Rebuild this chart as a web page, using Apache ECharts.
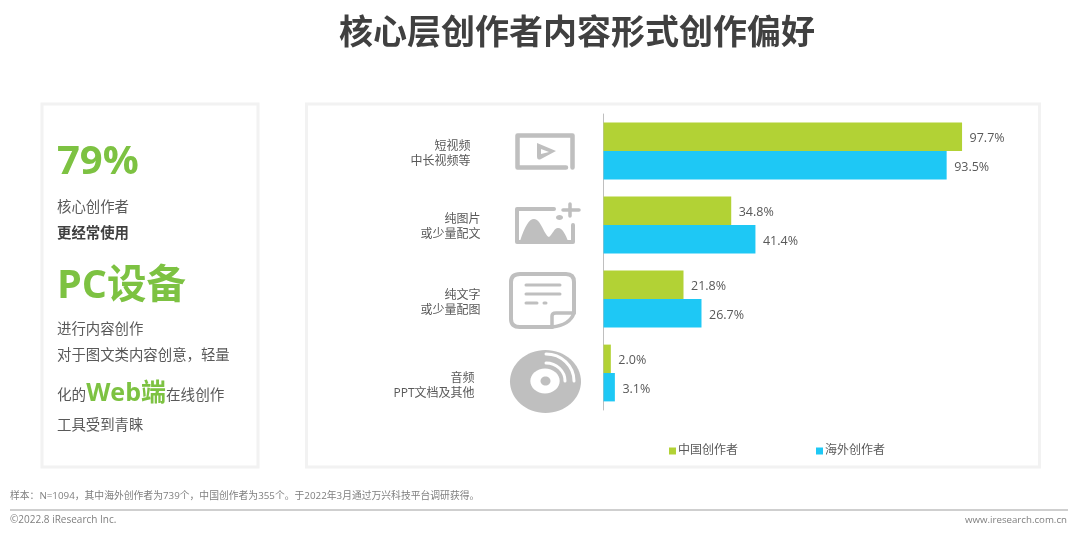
<!DOCTYPE html>
<html><head><meta charset="utf-8">
<style>html,body{margin:0;padding:0;background:#fff}#c{width:1080px;height:535px}</style>
<script src="https://cdn.jsdelivr.net/npm/echarts@6/dist/echarts.min.js"></script>
</head><body><div id="c"></div>
<script>
const categories = ['短视频\n中长视频等','纯图片\n或少量配文','纯文字\n或少量配图','音频\nPPT文档及其他'];
const labelPads = [133,123,123,129];
const labelDrops = [3,2,4,13];
const seriesNames = ['中国创作者','海外创作者'];
const chinaValues = [97.7,34.8,21.8,2.0];
const overseasValues = [93.5,41.4,26.7,3.1];
const titleText = '核心层创作者内容形式创作偏好';
const noteText = '样本：N=1094，其中海外创作者为739个，中国创作者为355个。于2022年3月通过万兴科技平台调研获得。';
const copyrightText = '©2022.8 iResearch Inc.';
const siteText = 'www.iresearch.com.cn';

const FONT = '"Open Sans","Noto Sans CJK SC",sans-serif';
const GREY = '#595959', ICON = '#bfbfbf', GREEN = '#7dc242', PANEL = '#f2f2f2';
const t = (x,y,text,size,fill,weight,extra) => ({type:'text',x,y,silent:true,style:Object.assign({text,fontFamily:FONT,fontSize:size,fill,fontWeight:weight||'normal',verticalAlign:'middle',align:'left'},extra||{})});
let pathId = 0;
const p = (d,style) => {
  const name = 'iconPath' + (pathId++);
  echarts.graphic.registerShape(name, echarts.graphic.extendPath(d));
  return {type:name,silent:true,style};
};
const stroke = (w,c) => ({fill:'none',stroke:c||ICON,lineWidth:w,lineCap:'round',lineJoin:'round'});
const box = (x,y,w,h) => ({type:'rect',silent:true,shape:{x,y,width:w,height:h},style:{fill:'#fff',stroke:PANEL,lineWidth:3}});

const graphics = [
  box(42,104,216,363), box(306.5,104,733,363),
  t(57,163,'79%',40,GREEN,'bold'),
  t(57,208,'核心创作者',14.4,GREY),
  t(57,234,'更经常使用',14.4,'#404040','bold'),
  t(57,287,'PC设备',39.5,GREEN,'bold'),
  t(57,330,'进行内容创作',14.4,GREY),
  t(57,356,'对于图文类内容创意，轻量',14.4,GREY),
  {type:'text',x:57,y:394,silent:true,style:{text:'{a|化的}{g|Web端}{a|在线创作}',fontFamily:FONT,verticalAlign:'middle',
    rich:{a:{fontFamily:FONT,fontSize:14.6,fill:GREY,verticalAlign:'middle',padding:[3,0,0,0]},g:{fontFamily:FONT,fontSize:25,fontWeight:'bold',fill:GREEN}}}},
  t(57,426,'工具受到青睐',14.4,GREY),
  // video icon
  p('M566 167.5H517.5V135.5H572.5V167.5', stroke(4.5)),
  p('M537 143L556 151L541 159Q537 161 537 156Z', {fill:ICON}),
  p('M541 149L549 152L541 154Z', {fill:'#fff'}),
  // picture icon
  p('M554 209H517V242H573V225', stroke(4)),
  p('M520 241C525 226 529 219 534 219C541 219 544 235 549 237C553 234 554 228 558 228C563 228 566 236 568 241Z', {fill:ICON}),
  p('M570 204V216M563 210H579', stroke(3.5)),
  {type:'ellipse',silent:true,shape:{cx:559.5,cy:217.5,rx:3.5,ry:2.5},style:{fill:ICON}},
  // document icon
  p('M520 274H566Q574 274 574 282V313L552 327H520Q511 327 511 319V282Q511 274 520 274Z', stroke(4)),
  p('M552 327V316Q552 313 556 313H574Q570 325 552 327Z', {fill:'#fff',stroke:ICON,lineWidth:3.5,lineJoin:'round'}),
  p('M526 285H560M526 294H560M526 303H537M544 303H546', stroke(3)),
  // disc icon
  {type:'ellipse',silent:true,shape:{cx:545.5,cy:381.5,rx:35.5,ry:31.5},style:{fill:ICON}},
  {type:'ellipse',silent:true,shape:{cx:545,cy:381,rx:14.7,ry:12.5},style:{fill:'#fff'}},
  {type:'ellipse',silent:true,shape:{cx:545.5,cy:381,rx:5,ry:4.5},style:{fill:ICON}},
  p('M546 354A28 27 0 0 1 574 381', stroke(3,'#fff')),
  p('M546 363A19 18 0 0 1 565 381', stroke(3,'#fff')),
  // footer
  t(10,496.5,noteText,9.8,'#7f7f7f'),
  {type:'line',silent:true,shape:{x1:10,y1:510,x2:1068,y2:510},style:{stroke:ICON,lineWidth:1.5}},
  t(10,520,copyrightText,10,'#7f7f7f'),
  t(1067,520,siteText,9.7,'#7f7f7f','normal',{align:'right'})
];

const rich = {};
labelPads.forEach((v,i)=>{
  rich['r'+i]={fontFamily:FONT,fontSize:12,lineHeight:15,color:GREY,padding:[0,v,0,0],align:'right'};
  rich['s'+i]={fontSize:1,lineHeight:labelDrops[i]*2,height:labelDrops[i]*2};
});

const chart = echarts.init(document.getElementById('c'),null,{renderer:'canvas'});
chart.setOption({
  animation:false,
  backgroundColor:'#fff',
  title:{text:titleText,left:572,top:7,textAlign:'center',textStyle:{fontFamily:FONT,fontSize:34,fontWeight:'bold',color:'#404040',lineHeight:44}},
  legend:{left:669,top:445,padding:0,itemWidth:7,itemHeight:7,itemGap:78,icon:'rect',data:seriesNames,
    textStyle:{fontFamily:FONT,fontSize:12,color:GREY,padding:[0,0,0,-3]}},
  grid:{left:603.5,top:114,width:367,height:296,containLabel:false},
  xAxis:{type:'value',min:0,max:100,show:false},
  yAxis:{type:'category',inverse:true,data:categories,
    axisLine:{show:true,lineStyle:{color:ICON,width:1}},axisTick:{show:false},
    axisLabel:{margin:0,fontFamily:FONT,rich,
      formatter:(v,i)=>'{s'+i+'| }\n'+v.split('\n').map(s=>'{r'+i+'|'+s+'}').join('\n')}},
  series:[
    {name:seriesNames[0],type:'bar',data:chinaValues,barWidth:28.4,barGap:'0%',itemStyle:{color:'#b2d235'},
      label:{show:true,position:'right',distance:7.5,offset:[0,2],fontFamily:FONT,fontSize:12.5,color:GREY,formatter:o=>o.value.toFixed(1)+'%'}},
    {name:seriesNames[1],type:'bar',data:overseasValues,barWidth:28.4,barGap:'0%',itemStyle:{color:'#1ec8f5'},
      label:{show:true,position:'right',distance:7.5,offset:[0,2],fontFamily:FONT,fontSize:12.5,color:GREY,formatter:o=>o.value.toFixed(1)+'%'}}
  ],
  graphic:{elements:graphics}
});
</script></body></html>
